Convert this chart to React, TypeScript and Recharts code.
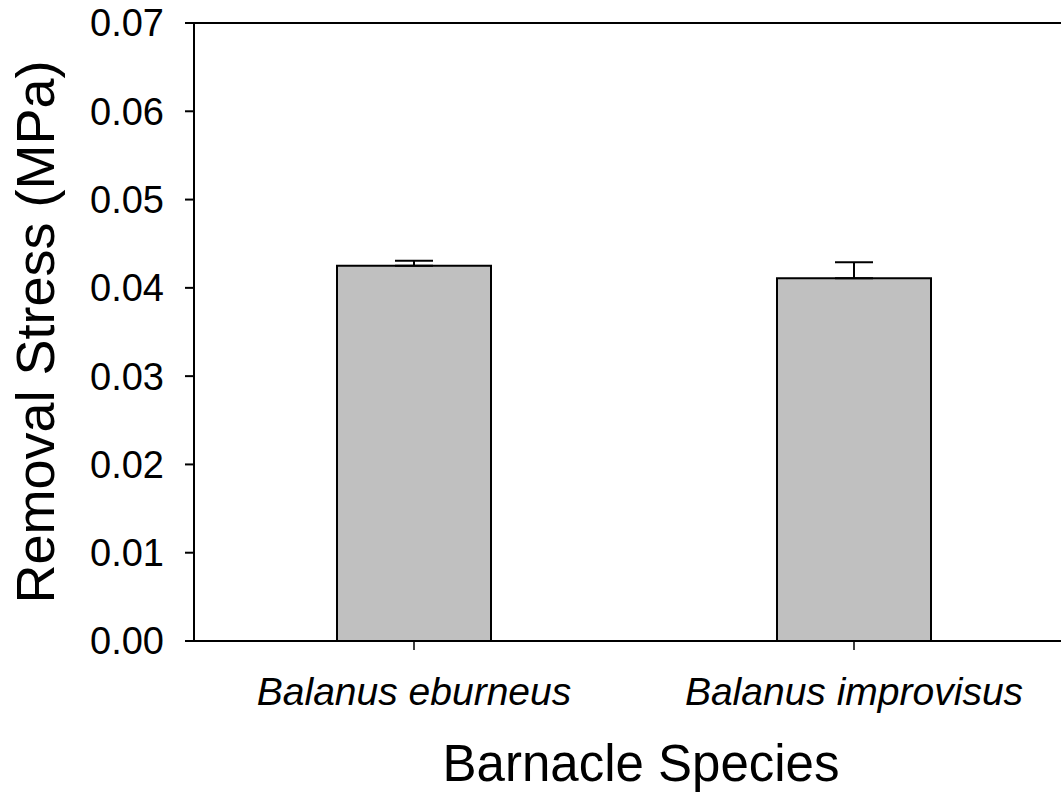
import React from 'react';
import { BarChart, Bar, XAxis, YAxis, ErrorBar, ReferenceLine } from 'recharts';

const species = ['Balanus eburneus', 'Balanus improvisus'];
const removalStress = [0.0425, 0.0411];
const stdError = [0.00057, 0.0018];
const yTicks = [0, 0.01, 0.02, 0.03, 0.04, 0.05, 0.06, 0.07];

const data = species.map((s, i) => ({
  species: s,
  value: removalStress[i],
  err: [0, stdError[i]],
}));

const FONT = "Arial, 'Liberation Sans', sans-serif";

export default function App() {
  return (
    <div
      style={{
        position: 'fixed',
        left: 0,
        top: 0,
        width: 1061,
        height: 796,
        overflow: 'hidden',
        background: '#fff',
        fontFamily: FONT,
      }}
    >
      <BarChart
        width={1090}
        height={796}
        data={data}
        margin={{ top: 23, right: 16, bottom: 0, left: 0 }}
        style={{ fontFamily: FONT }}
      >
        <XAxis
          dataKey="species"
          height={155}
          tickSize={9}
          tickMargin={27}
          interval={0}
          tick={{ fontSize: 39, fontStyle: 'italic', fill: '#000', fontFamily: FONT }}
          axisLine={{ stroke: '#000', strokeWidth: 2 }}
          tickLine={{ stroke: '#000', strokeWidth: 1.5 }}
          label={{
            value: 'Barnacle Species',
            position: 'insideBottom',
            offset: 15,
            dx: 7,
            style: { fontSize: 51, fill: '#000', fontFamily: FONT },
          }}
        />
        <YAxis
          width={194}
          domain={[0, 0.07]}
          ticks={yTicks}
          interval={0}
          allowDataOverflow
          tickFormatter={(v: number) => v.toFixed(2)}
          tickSize={9}
          tickMargin={21}
          tick={{ fontSize: 38, fill: '#000', fontFamily: FONT }}
          axisLine={{ stroke: '#000', strokeWidth: 2 }}
          tickLine={{ stroke: '#000', strokeWidth: 2 }}
          label={{
            value: 'Removal Stress (MPa)',
            angle: -90,
            position: 'insideLeft',
            offset: 35,
            style: { textAnchor: 'middle', fontSize: 54, fill: '#000', fontFamily: FONT },
          }}
        />
        <ReferenceLine y={0.07} stroke="#000" strokeWidth={2} ifOverflow="visible" />
        <Bar
          dataKey="value"
          barSize={154}
          fill="#c0c0c0"
          stroke="#000"
          strokeWidth={2}
          isAnimationActive={false}
        >
          <ErrorBar
            dataKey="err"
            direction="y"
            width={19}
            stroke="#000"
            strokeWidth={2}
            isAnimationActive={false}
          />
        </Bar>
      </BarChart>
    </div>
  );
}
